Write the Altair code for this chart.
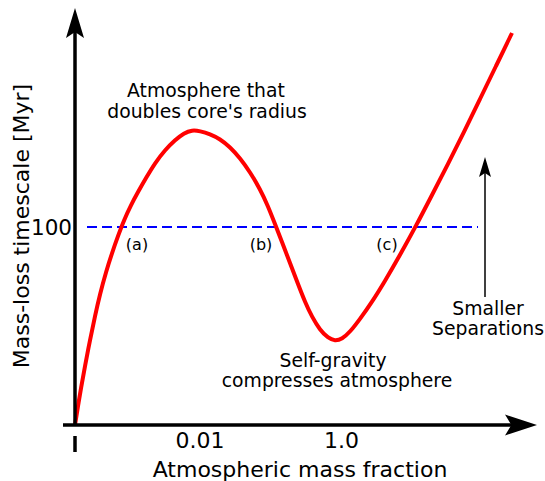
import altair as alt
import pandas as pd

# Schematic curve (arbitrary units: x = atmospheric mass fraction axis, y = mass-loss timescale)
curve_x = [0, 3, 6, 10, 15, 20, 25, 31, 37, 43, 49, 56, 63, 71, 80, 90, 100, 109, 117,
           125, 135, 145, 155, 165, 175, 185, 193, 200, 207, 215, 223, 230, 237, 245, 253,
           260, 267, 275, 285, 297, 310, 325, 341, 357, 373, 389, 405, 421, 437]
curve_y = [0, 19, 37, 59, 85, 109, 131, 153, 172, 189, 205, 220, 233, 247, 262, 275, 285, 292, 295,
           294, 291, 286, 278, 267, 253, 236, 219, 201, 183, 162, 141, 123, 108, 95, 87,
           84, 86, 93, 106, 123, 144, 170, 199, 230, 261, 293, 326, 359, 392]

threshold_y = 198
threshold_x = [12, 403]

x_tick_pos = [125, 266.5]
x_tick_labels = ["0.01", "1.0"]

FONT = "DejaVu Sans"
XD = [-75, 470]
YD = [-56, 425]

xs = alt.Scale(domain=XD, range=[0, 545])
ys = alt.Scale(domain=YD, range=[481, 0])


def X(f="x"):
    return alt.X(f"{f}:Q", scale=xs, axis=None)


def Y(f="y"):
    return alt.Y(f"{f}:Q", scale=ys, axis=None)


curve_df = pd.DataFrame({"x": curve_x, "y": curve_y, "o": range(len(curve_x))})
curve = alt.Chart(curve_df).mark_line(color="#ff0000", strokeWidth=4, interpolate="basis").encode(
    x=X(), y=Y(), order="o:Q")

dash_df = pd.DataFrame({"x": [threshold_x[0]], "x2": [threshold_x[1]], "y": [threshold_y]})
dash = alt.Chart(dash_df).mark_rule(color="#0000ff", strokeWidth=2, strokeDash=[10, 5]).encode(
    x=X(), x2="x2:Q", y=Y())

# axes
axes_df = pd.DataFrame({
    "x": [0, -12, 0, 410],
    "x2": [0, 440, 0, 410],
    "y": [0, 0, -11, 128],
    "y2": [396, 0, -27, 252],
    "w": [3.5, 3.5, 3.5, 1.5],
})
axes = alt.Chart(axes_df).mark_rule(color="black").encode(
    x=X(), x2="x2:Q", y=Y(), y2="y2:Q", strokeWidth=alt.StrokeWidth("w:Q", scale=None))

up_arrow = "M0,-1L0.6,1L0,0.6L-0.6,1Z"
right_arrow = "M1,0L-1,0.65L-0.6,0L-1,-0.65Z"
heads_y = alt.Chart(pd.DataFrame({"x": [0], "y": [402]})).mark_point(
    shape=up_arrow, size=900, filled=True, color="black", opacity=1, strokeWidth=0).encode(x=X(), y=Y())
heads_x = alt.Chart(pd.DataFrame({"x": [446], "y": [0]})).mark_point(
    shape=right_arrow, size=1024, filled=True, color="black", opacity=1, strokeWidth=0).encode(x=X(), y=Y())
heads_s = alt.Chart(pd.DataFrame({"x": [410], "y": [258]})).mark_point(
    shape=up_arrow, size=400, filled=True, color="black", opacity=1, strokeWidth=0).encode(x=X(), y=Y())


def text_layer(xv, yv, tv, size, align="center", baseline="alphabetic", angle=0):
    df = pd.DataFrame({"x": xv, "y": yv, "t": tv})
    kw = dict(font=FONT, fontSize=size, align=align, baseline=baseline, color="black")
    if angle:
        kw["angle"] = angle
    return alt.Chart(df).mark_text(**kw).encode(x=X(), y=Y(), text="t:N")


ylabel = text_layer([-46], [199], ["Mass-loss timescale [Myr]"], 22, angle=270)
ytick = text_layer([-3], [190], ["100"], 21.5, align="right")
xticks = text_layer(x_tick_pos, [-23, -23], x_tick_labels, 22)
xlabel = text_layer([225], [-52], ["Atmospheric mass fraction"], 22)
notes = text_layer([131, 132, 258, 262, 413, 413],
                   [328, 307, 58, 38, 110, 90],
                   ["Atmosphere that", "doubles core's radius", "Self-gravity",
                    "compresses atmosphere", "Smaller", "Separations"], 18.8)
letters = text_layer([62, 186, 312], [175, 175, 175], ["(a)", "(b)", "(c)"], 16)

chart = alt.layer(dash, curve, axes, heads_y, heads_x, heads_s,
                  ylabel, ytick, xticks, xlabel, notes, letters).properties(
    width=545, height=481, padding=0, autosize=alt.AutoSizeParams(type="none")
).configure_view(stroke=None)

chart.save("out.html", embed_options={"renderer": "svg", "actions": False})
